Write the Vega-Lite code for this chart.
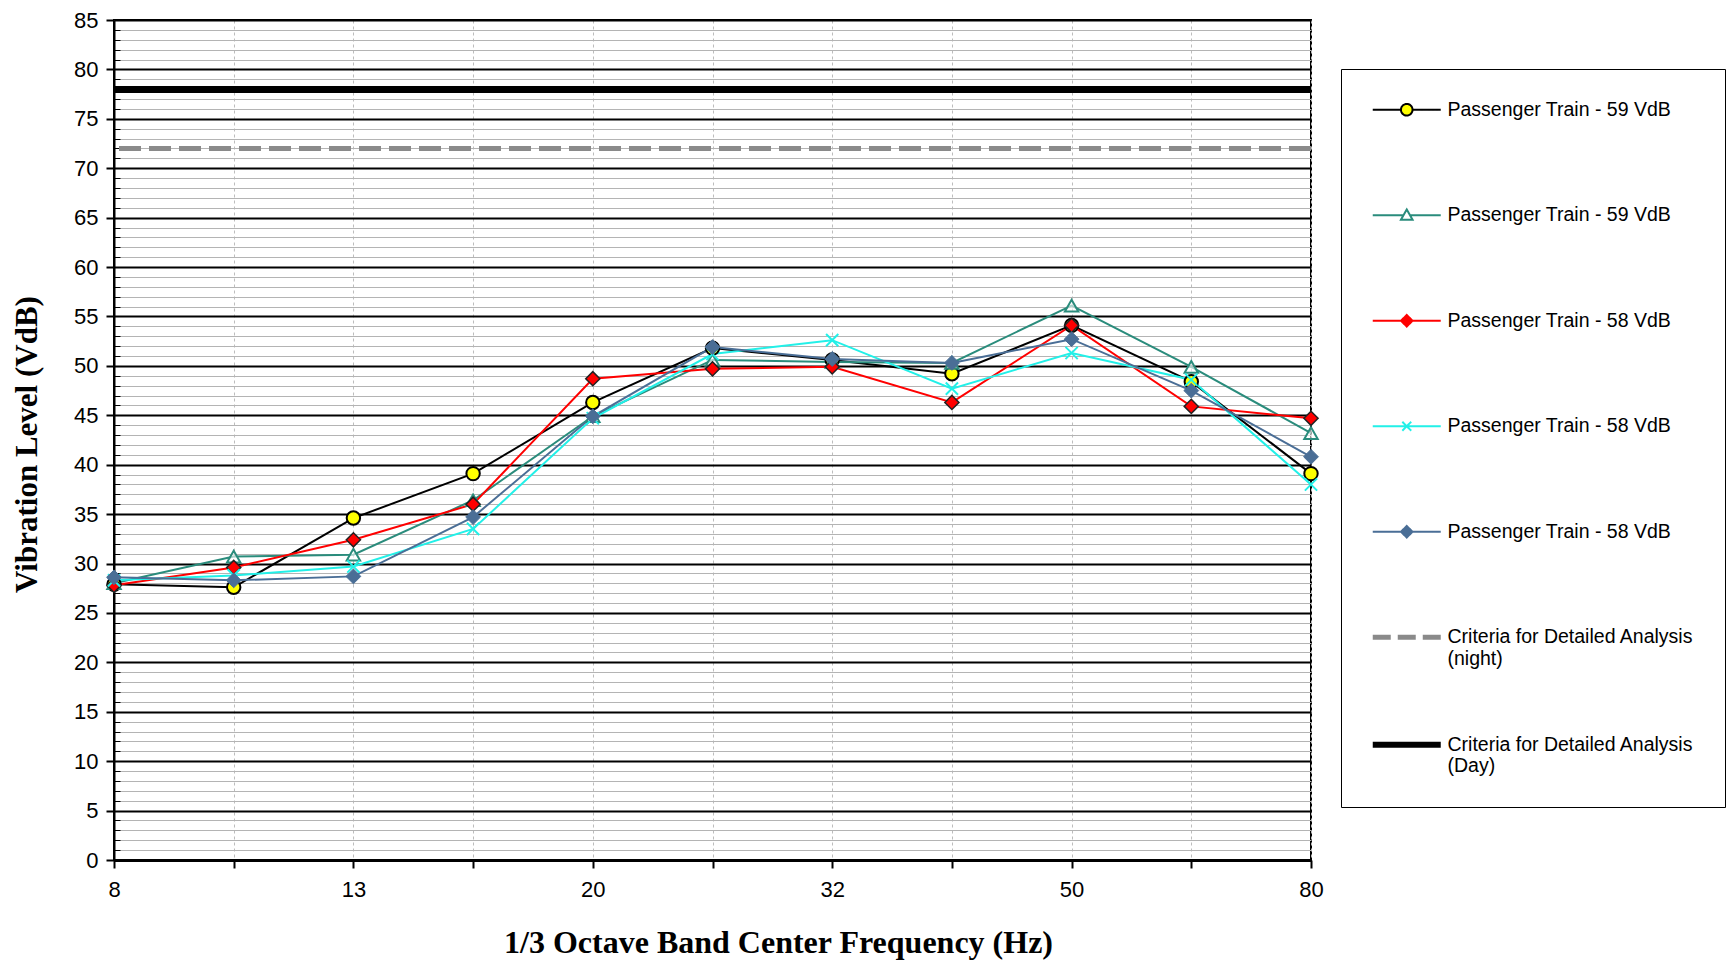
{
  "$schema": "https://vega.github.io/schema/vega-lite/v6.json",
  "autosize": {"type": "none"},
  "padding": {"left": 114, "top": 20, "right": 418, "bottom": 103},
  "width": 1197,
  "height": 840,
  "background": "white",
  "config": {
    "view": {"stroke": "black", "strokeWidth": 2},
    "font": "Liberation Sans"
  },
  "data": {
    "values": [
      {"freq": "8", "series": "s1", "value": 27.9},
      {"freq": "10", "series": "s1", "value": 27.6},
      {"freq": "13", "series": "s1", "value": 34.6},
      {"freq": "16", "series": "s1", "value": 39.1},
      {"freq": "20", "series": "s1", "value": 46.3},
      {"freq": "25", "series": "s1", "value": 51.8},
      {"freq": "32", "series": "s1", "value": 50.6},
      {"freq": "40", "series": "s1", "value": 49.2},
      {"freq": "50", "series": "s1", "value": 54.1},
      {"freq": "63", "series": "s1", "value": 48.4},
      {"freq": "80", "series": "s1", "value": 39.1},
      {"freq": "8", "series": "s2", "value": 28.0},
      {"freq": "10", "series": "s2", "value": 30.7},
      {"freq": "13", "series": "s2", "value": 30.9},
      {"freq": "16", "series": "s2", "value": 36.4},
      {"freq": "20", "series": "s2", "value": 44.9},
      {"freq": "25", "series": "s2", "value": 50.6},
      {"freq": "32", "series": "s2", "value": 50.4},
      {"freq": "40", "series": "s2", "value": 50.3},
      {"freq": "50", "series": "s2", "value": 56.1},
      {"freq": "63", "series": "s2", "value": 49.9},
      {"freq": "80", "series": "s2", "value": 43.2},
      {"freq": "8", "series": "s3", "value": 27.8},
      {"freq": "10", "series": "s3", "value": 29.6},
      {"freq": "13", "series": "s3", "value": 32.4},
      {"freq": "16", "series": "s3", "value": 36.0},
      {"freq": "20", "series": "s3", "value": 48.7},
      {"freq": "25", "series": "s3", "value": 49.7},
      {"freq": "32", "series": "s3", "value": 49.9},
      {"freq": "40", "series": "s3", "value": 46.3},
      {"freq": "50", "series": "s3", "value": 54.1},
      {"freq": "63", "series": "s3", "value": 45.9},
      {"freq": "80", "series": "s3", "value": 44.7},
      {"freq": "8", "series": "s4", "value": 28.3},
      {"freq": "10", "series": "s4", "value": 28.8},
      {"freq": "13", "series": "s4", "value": 29.7},
      {"freq": "16", "series": "s4", "value": 33.5},
      {"freq": "20", "series": "s4", "value": 44.7},
      {"freq": "25", "series": "s4", "value": 51.2},
      {"freq": "32", "series": "s4", "value": 52.6},
      {"freq": "40", "series": "s4", "value": 47.7},
      {"freq": "50", "series": "s4", "value": 51.3},
      {"freq": "63", "series": "s4", "value": 48.6},
      {"freq": "80", "series": "s4", "value": 38.0},
      {"freq": "8", "series": "s5", "value": 28.6},
      {"freq": "10", "series": "s5", "value": 28.3},
      {"freq": "13", "series": "s5", "value": 28.7},
      {"freq": "16", "series": "s5", "value": 34.7},
      {"freq": "20", "series": "s5", "value": 44.9},
      {"freq": "25", "series": "s5", "value": 51.9},
      {"freq": "32", "series": "s5", "value": 50.7},
      {"freq": "40", "series": "s5", "value": 50.3},
      {"freq": "50", "series": "s5", "value": 52.7},
      {"freq": "63", "series": "s5", "value": 47.5},
      {"freq": "80", "series": "s5", "value": 40.8}
    ]
  },
  "encoding": {
    "x": {
      "field": "freq", "type": "ordinal",
      "sort": ["8","10","13","16","20","25","32","40","50","63","80"],
      "scale": {"type": "point", "padding": 0},
      "axis": {
        "title": "1/3 Octave Band Center Frequency (Hz)",
        "titleFont": "Liberation Serif", "titleFontSize": 32, "titleFontWeight": "bold", "titleColor": "black",
        "titlePadding": 27, "titleX": 664,
        "labelAngle": 0,
        "labelExpr": "indexof(['8','13','20','32','50','80'], datum.label) >= 0 ? datum.label : ''",
        "labelFont": "Liberation Sans", "labelFontSize": 22, "labelColor": "black", "labelPadding": 11,
        "tickSize": 8, "tickColor": "black", "tickWidth": 2,
        "domainColor": "black", "domainWidth": 3,
        "grid": true, "gridColor": "#bdbdbd", "gridDash": [3, 3], "gridWidth": 1
      }
    },
    "y": {
      "field": "value", "type": "quantitative",
      "scale": {"domain": [0, 85], "nice": false},
      "axis": {
        "title": "Vibration Level (VdB)",
        "titleFont": "Liberation Serif", "titleFontSize": 31, "titleFontWeight": "bold", "titleColor": "black",
        "titlePadding": 30, "titleY": 424,
        "values": [0,1,2,3,4,5,6,7,8,9,10,11,12,13,14,15,16,17,18,19,20,21,22,23,24,25,26,27,28,29,30,31,32,33,34,35,36,37,38,39,40,41,42,43,44,45,46,47,48,49,50,51,52,53,54,55,56,57,58,59,60,61,62,63,64,65,66,67,68,69,70,71,72,73,74,75,76,77,78,79,80,81,82,83,84,85],
        "labelExpr": "datum.value % 5 === 0 ? datum.label : ''",
        "labelFont": "Liberation Sans", "labelFontSize": 22, "labelColor": "black", "labelPadding": 8,
        "tickColor": "black",
        "tickSize": {"condition": {"test": "datum.value % 5 === 0", "value": 8}, "value": -6},
        "tickWidth": {"condition": {"test": "datum.value % 5 === 0", "value": 2}, "value": 1},
        "domainColor": "black", "domainWidth": 2,
        "grid": true,
        "gridColor": {"condition": {"test": "datum.value % 5 === 0", "value": "black"}, "value": "#b4b4b4"},
        "gridWidth": {"condition": {"test": "datum.value % 5 === 0", "value": 2}, "value": 1}
      }
    }
  },
  "layer": [
    {
      "mark": {"type": "rule", "stroke": "#8a8a8a", "strokeWidth": 5, "strokeDash": [22, 8]},
      "encoding": {"x": null, "y": {"datum": 72}}
    },
    {
      "mark": {"type": "rule", "stroke": "black", "strokeWidth": 6},
      "encoding": {"x": null, "y": {"datum": 78}}
    },
    {
      "mark": {"type": "line", "strokeWidth": 2},
      "encoding": {
        "color": {
          "field": "series", "type": "nominal",
          "scale": {
            "domain": ["s1","s2","s3","s4","s5","night","day"],
            "range": ["black","#2a8c7c","#ff0000","#22f0e8","#4a6e96","#8a8a8a","black"]
          },
          "legend": {
            "orient": "none", "legendX": 1227, "legendY": 49,
            "title": null,
            "strokeColor": "black", "fillColor": "white", "padding": 31,
            "symbolSize": 4624, "symbolStrokeWidth": 2, "symbolOffset": 25,
            "labelFont": "Liberation Sans", "labelFontSize": 19.5, "labelColor": "black",
            "labelLimit": 400, "labelOffset": 31, "rowPadding": 63.5,
            "labelExpr": "datum.value === 'night' ? ['Criteria for Detailed Analysis','(night)'] : datum.value === 'day' ? ['Criteria for Detailed Analysis','(Day)'] : (datum.value === 's1' || datum.value === 's2') ? ['Passenger Train - 59 VdB', ' '] : ['Passenger Train - 58 VdB', ' ']",
            "encode": {
              "symbols": {
                "update": {
                  "shape": {"signal": "datum.value === 's1' ? 'M-1,0H-0.17M0.17,0H1M-0.17,0A0.17,0.17 0 1,1 0.17,0A0.17,0.17 0 1,1 -0.17,0Z' : datum.value === 's2' ? 'M-1,0H-0.1M0.1,0H1M0,-0.17L0.17,0.13L-0.17,0.13Z' : datum.value === 's3' ? 'M-1,0H-0.17M0.17,0H1M0,-0.17L0.17,0L0,0.17L-0.17,0Z' : datum.value === 's4' ? 'M-1,0H1M-0.13,-0.13L0.13,0.13M-0.13,0.13L0.13,-0.13' : datum.value === 's5' ? 'M-1,0H-0.17M0.17,0H1M0,-0.17L0.17,0L0,0.17L-0.17,0Z' : 'M-1,0H1'"},
                  "fill": {"signal": "datum.value === 's1' ? '#ffff00' : datum.value === 's2' ? 'white' : datum.value === 's3' ? '#ff0000' : datum.value === 's5' ? '#4a6e96' : 'transparent'"},
                  "stroke": {"signal": "datum.value === 's1' ? 'black' : datum.value === 's2' ? '#2a8c7c' : datum.value === 's3' ? '#ff0000' : datum.value === 's4' ? '#22f0e8' : datum.value === 's5' ? '#4a6e96' : datum.value === 'night' ? '#8a8a8a' : 'black'"},
                  "strokeWidth": {"signal": "datum.value === 'night' ? 5 : datum.value === 'day' ? 6 : 2"},
                  "strokeDash": {"signal": "datum.value === 'night' ? [18, 7] : [1, 0]"},
                  "opacity": {"value": 1}
                }
              }
            }
          }
        }
      }
    },
    {
      "transform": [{"filter": "datum.series === 's1'"}],
      "mark": {"type": "point", "shape": "circle", "size": 180, "filled": true, "fill": "#ffff00", "stroke": "black", "strokeWidth": 2, "opacity": 1}
    },
    {
      "transform": [{"filter": "datum.series === 's2'"}],
      "mark": {"type": "point", "shape": "triangle-up", "size": 180, "filled": false, "fill": "white", "fillOpacity": 0.6, "stroke": "#2a8c7c", "strokeWidth": 2, "opacity": 1}
    },
    {
      "transform": [{"filter": "datum.series === 's3'"}],
      "mark": {"type": "point", "shape": "diamond", "size": 200, "filled": true, "fill": "#ff0000", "stroke": "#222222", "strokeWidth": 1.5, "opacity": 1}
    },
    {
      "transform": [{"filter": "datum.series === 's4'"}],
      "mark": {"type": "point", "shape": "M-1,-1L1,1M-1,1L1,-1", "size": 150, "filled": false, "stroke": "#22f0e8", "strokeWidth": 2, "opacity": 1}
    },
    {
      "transform": [{"filter": "datum.series === 's5'"}],
      "mark": {"type": "point", "shape": "diamond", "size": 220, "filled": true, "fill": "#4a6e96", "stroke": "#4a6e96", "strokeWidth": 1, "opacity": 1}
    }
  ]
}
